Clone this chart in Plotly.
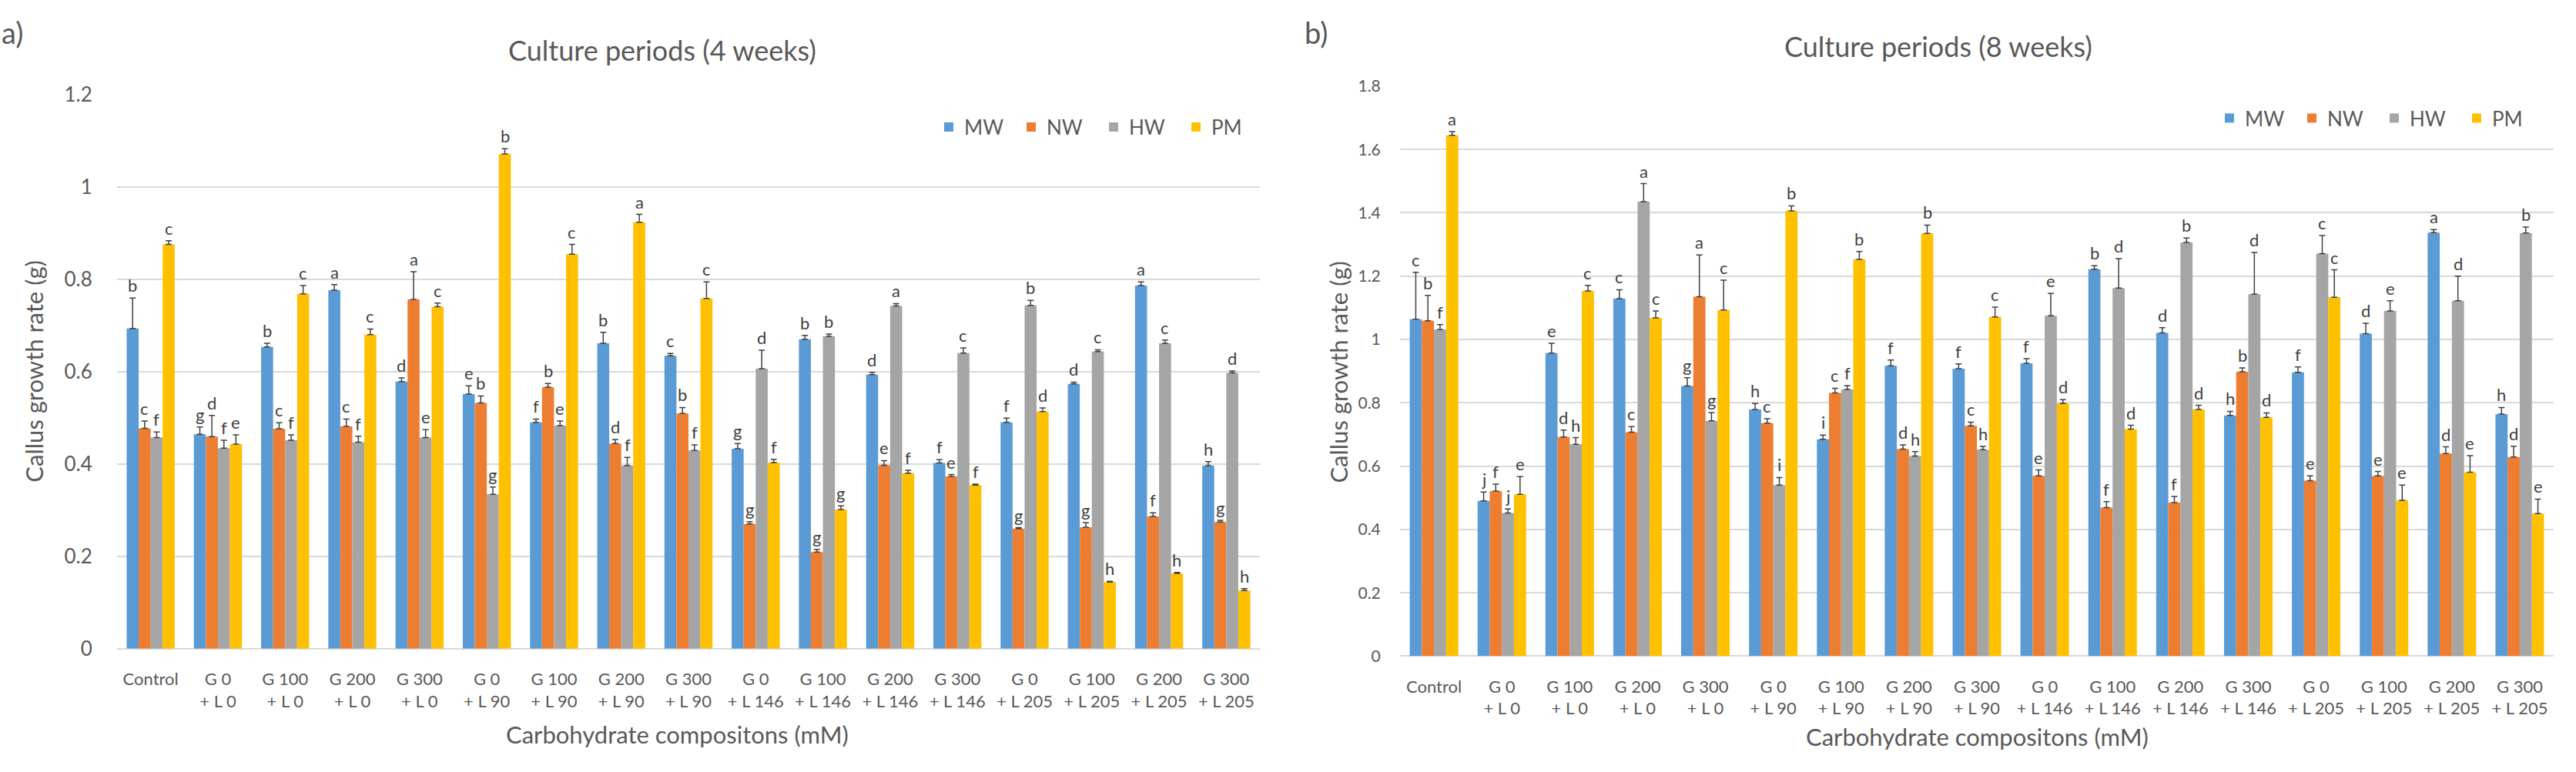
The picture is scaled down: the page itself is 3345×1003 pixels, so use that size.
import plotly.graph_objects as go

categories = ["Control", "G 0<br>+ L 0", "G 100<br>+ L 0", "G 200<br>+ L 0", "G 300<br>+ L 0",
              "G 0<br>+ L 90", "G 100<br>+ L 90", "G 200<br>+ L 90", "G 300<br>+ L 90",
              "G 0<br>+ L 146", "G 100<br>+ L 146", "G 200<br>+ L 146", "G 300<br>+ L 146",
              "G 0<br>+ L 205", "G 100<br>+ L 205", "G 200<br>+ L 205", "G 300<br>+ L 205"]
series_names = ["MW", "NW", "HW", "PM"]
colors = ["#5B9BD5", "#ED7D31", "#A5A5A5", "#FFC000"]

# ---- 4 weeks ----
w4_MW = [0.693, 0.464, 0.653, 0.776, 0.578, 0.551, 0.490, 0.661, 0.634, 0.433, 0.670, 0.593, 0.402, 0.490, 0.573, 0.786, 0.396]
w4_NW = [0.477, 0.459, 0.476, 0.481, 0.756, 0.532, 0.566, 0.444, 0.509, 0.270, 0.209, 0.397, 0.373, 0.260, 0.263, 0.286, 0.274]
w4_HW = [0.457, 0.434, 0.451, 0.447, 0.457, 0.334, 0.483, 0.396, 0.429, 0.606, 0.676, 0.742, 0.640, 0.743, 0.643, 0.661, 0.597]
w4_PM = [0.875, 0.443, 0.768, 0.680, 0.740, 1.071, 0.854, 0.923, 0.758, 0.403, 0.301, 0.380, 0.354, 0.513, 0.144, 0.163, 0.126]

w4_MW_err = [0.066, 0.016, 0.008, 0.012, 0.008, 0.018, 0.007, 0.024, 0.005, 0.011, 0.008, 0.005, 0.007, 0.009, 0.004, 0.008, 0.009]
w4_NW_err = [0.016, 0.046, 0.013, 0.016, 0.060, 0.015, 0.008, 0.009, 0.013, 0.005, 0.006, 0.010, 0.004, 0.002, 0.010, 0.008, 0.004]
w4_HW_err = [0.012, 0.017, 0.012, 0.013, 0.017, 0.016, 0.010, 0.018, 0.012, 0.040, 0.005, 0.005, 0.011, 0.011, 0.004, 0.007, 0.004]
w4_PM_err = [0.008, 0.020, 0.018, 0.012, 0.008, 0.011, 0.021, 0.017, 0.036, 0.007, 0.008, 0.006, 0.002, 0.008, 0.002, 0.002, 0.004]

w4_MW_let = ["b", "g", "b", "a", "d", "e", "f", "b", "c", "g", "b", "d", "f", "f", "d", "a", "h"]
w4_NW_let = ["c", "d", "c", "c", "a", "b", "b", "d", "b", "g", "g", "e", "e", "g", "g", "f", "g"]
w4_HW_let = ["f", "f", "f", "f", "e", "g", "e", "f", "f", "d", "b", "a", "c", "b", "c", "c", "d"]
w4_PM_let = ["c", "e", "c", "c", "c", "b", "c", "a", "c", "f", "g", "f", "f", "d", "h", "h", "h"]

# ---- 8 weeks ----
w8_MW = [1.064, 0.490, 0.957, 1.129, 0.853, 0.779, 0.685, 0.917, 0.908, 0.925, 1.222, 1.021, 0.760, 0.896, 1.018, 1.337, 0.764]
w8_NW = [1.059, 0.521, 0.692, 0.707, 1.135, 0.736, 0.831, 0.654, 0.727, 0.569, 0.469, 0.485, 0.898, 0.554, 0.569, 0.640, 0.629]
w8_HW = [1.031, 0.452, 0.669, 1.435, 0.743, 0.540, 0.842, 0.632, 0.652, 1.075, 1.162, 1.306, 1.143, 1.271, 1.090, 1.122, 1.336]
w8_PM = [1.645, 0.511, 1.153, 1.068, 1.093, 1.406, 1.253, 1.335, 1.071, 0.798, 0.717, 0.779, 0.754, 1.133, 0.492, 0.581, 0.450]

w8_MW_err = [0.148, 0.028, 0.031, 0.028, 0.026, 0.019, 0.013, 0.018, 0.015, 0.014, 0.011, 0.016, 0.013, 0.017, 0.033, 0.010, 0.021]
w8_NW_err = [0.080, 0.022, 0.022, 0.018, 0.132, 0.014, 0.015, 0.013, 0.012, 0.019, 0.019, 0.019, 0.012, 0.015, 0.014, 0.021, 0.034]
w8_HW_err = [0.016, 0.013, 0.021, 0.057, 0.026, 0.024, 0.012, 0.014, 0.010, 0.070, 0.093, 0.014, 0.132, 0.057, 0.032, 0.078, 0.019]
w8_PM_err = [0.011, 0.056, 0.018, 0.022, 0.094, 0.016, 0.025, 0.026, 0.031, 0.012, 0.012, 0.013, 0.014, 0.087, 0.048, 0.052, 0.046]

w8_MW_let = ["c", "j", "e", "c", "g", "h", "i", "f", "f", "f", "b", "d", "h", "f", "d", "a", "h"]
w8_NW_let = ["b", "f", "d", "c", "a", "c", "c", "d", "c", "e", "f", "f", "b", "e", "e", "d", "d"]
w8_HW_let = ["f", "j", "h", "a", "g", "i", "f", "h", "h", "e", "d", "b", "d", "c", "e", "d", "b"]
w8_PM_let = ["a", "e", "c", "c", "c", "b", "b", "b", "c", "d", "d", "d", "d", "c", "e", "e", "e"]

FONT = "Lato"
TXT = "#595959"
GRID = "#D9D9D9"
BARGAP = 0.285

panels = [
    dict(vals=[w4_MW, w4_NW, w4_HW, w4_PM], errs=[w4_MW_err, w4_NW_err, w4_HW_err, w4_PM_err],
         lets=[w4_MW_let, w4_NW_let, w4_HW_let, w4_PM_let], xa="x", ya="y", leg="legend"),
    dict(vals=[w8_MW, w8_NW, w8_HW, w8_PM], errs=[w8_MW_err, w8_NW_err, w8_HW_err, w8_PM_err],
         lets=[w8_MW_let, w8_NW_let, w8_HW_let, w8_PM_let], xa="x2", ya="y2", leg="legend2"),
]

fig = go.Figure()
annotations = []
for p in panels:
    for j, name in enumerate(series_names):
        fig.add_trace(go.Bar(
            x=categories, y=p["vals"][j], name=name, marker=dict(color=colors[j], line=dict(width=0)),
            error_y=dict(type="data", array=p["errs"][j], arrayminus=[0] * len(categories), symmetric=False,
                         color="#404040", thickness=1.5, width=4),
            xaxis=p["xa"], yaxis=p["ya"], legend=p["leg"]))
        w = (1 - BARGAP) / 4
        off = (j - 1.5) * w
        for i, (v, e, l) in enumerate(zip(p["vals"][j], p["errs"][j], p["lets"][j])):
            annotations.append(dict(x=i + off, y=v + e, xref=p["xa"], yref=p["ya"], text=l,
                                    showarrow=False, yanchor="bottom", yshift=1,
                                    font=dict(family=FONT, size=22, color="#404040")))

def txt(x, y, s, size, xanchor="center", yanchor="middle", angle=0):
    return dict(x=x, y=y, xref="paper", yref="paper", text=s, showarrow=False, xanchor=xanchor,
                yanchor=yanchor, textangle=angle, font=dict(family=FONT, size=size, color=TXT))

W, H = 3345, 1003
annotations += [
    txt(0 / W, 1 - 26 / H, "a)", 38, xanchor="left"),
    txt(1692 / W, 1 - 26 / H, "b)", 38, xanchor="left"),
    txt(860 / W, 1 - 50 / H, "Culture periods (4 weeks)", 36),
    txt(2517 / W, 1 - 44 / H, "Culture periods (8 weeks)", 36),
    txt(879 / W, 1 - 968 / H, "Carbohydrate compositons (mM)", 31),
    txt(2567 / W, 1 - 971 / H, "Carbohydrate compositons (mM)", 31),
    txt(44 / W, 1 - 481 / H, "Callus growth rate (g)", 31, angle=-90),
    txt(1738 / W, 1 - 482 / H, "Callus growth rate (g)", 31, angle=-90),
]

xcommon = dict(type="category", showgrid=False, showline=False, zeroline=False, ticks="outside",
               tickcolor="rgba(0,0,0,0)", tickfont=dict(family=FONT, size=22, color=TXT))
ycommon = dict(dtick=0.2, showgrid=True, gridcolor=GRID, gridwidth=2, zeroline=True, zerolinecolor=GRID,
               zerolinewidth=2, showline=False, ticks="outside", tickcolor="rgba(0,0,0,0)")

legcommon = dict(orientation="h", xanchor="left", yanchor="middle", font=dict(family=FONT, size=26, color=TXT),
                 entrywidth=62, entrywidthmode="pixels", bgcolor="rgba(0,0,0,0)")

fig.update_layout(
    width=W, height=H, margin=dict(l=0, r=0, t=0, b=0),
    paper_bgcolor="white", plot_bgcolor="white",
    barmode="group", bargap=BARGAP, bargroupgap=0,
    font=dict(family=FONT, color=TXT),
    xaxis=dict(domain=[152 / W, 1636 / W], anchor="y", ticklen=20, **xcommon),
    yaxis=dict(domain=[1 - 853 / H, 1 - 109 / H], anchor="x", range=[0, 1.2], ticklen=26,
               tickfont=dict(family=FONT, size=26, color=TXT), **ycommon),
    xaxis2=dict(domain=[1818 / W, 3316 / W], anchor="y2", ticklen=20, **xcommon),
    yaxis2=dict(domain=[1 - 863 / H, 1 - 98 / H], anchor="x2", range=[0, 1.8], ticklen=20,
                tickfont=dict(family=FONT, size=21, color=TXT), **ycommon),
    legend=dict(x=1212 / W, y=1 - 153 / H, **legcommon),
    legend2=dict(x=2875 / W, y=1 - 141 / H, **legcommon),
    annotations=annotations,
)

fig.write_html("out.html")
